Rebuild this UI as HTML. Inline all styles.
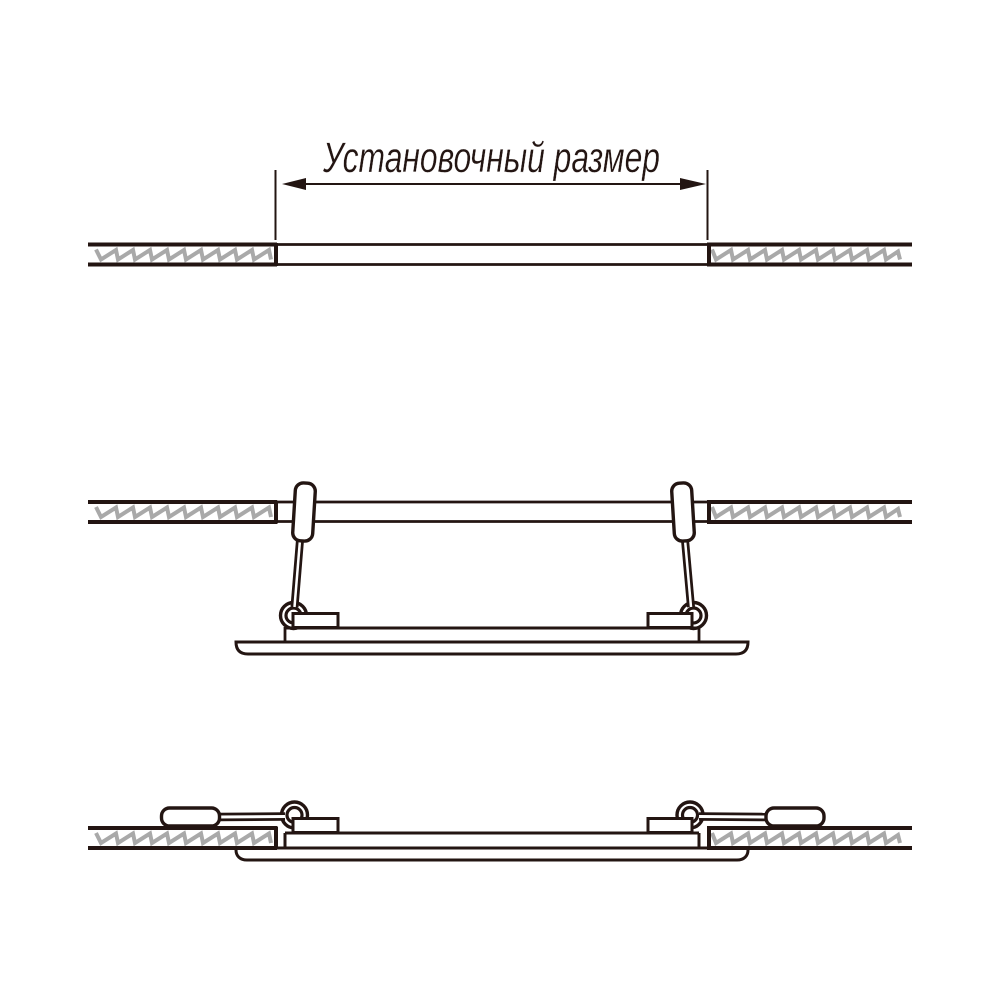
<!DOCTYPE html>
<html><head><meta charset="utf-8"><style>html,body{margin:0;padding:0;background:#fff}svg{display:block}</style></head>
<body>
<svg width="1000" height="1000" viewBox="0 0 1000 1000" xmlns="http://www.w3.org/2000/svg">
<defs>
<g id="wallL">
<path d="M96 6.500 l5 10 l15 -9.500 l2 9.500 l15 -9.500 l2 9.500 l15 -9.500 l2 9.500 l15 -9.500 l2 9.500 l15 -9.500 l2 9.500 l15 -9.500 l2 9.500 l15 -9.500 l2 9.500 l15 -9.500 l2 9.500 l15 -9.500 l2 9.500 l15 -9.500 l2 9.500" fill="none" stroke="#a9a9a9" stroke-width="4"/>
<path d="M88 1.500H277M88 21.500H277" stroke="#231512" stroke-width="4" fill="none"/>
<path d="M276 0V23" stroke="#231512" stroke-width="4" fill="none"/>
</g>
<g id="wallR">
<path d="M712 6.500 l4 10 l15 -9.500 l2 9.500 l15 -9.500 l2 9.500 l15 -9.500 l2 9.500 l15 -9.500 l2 9.500 l15 -9.500 l2 9.500 l15 -9.500 l2 9.500 l15 -9.500 l2 9.500 l15 -9.500 l2 9.500 l15 -9.500 l2 9.500 l15 -9.500 l2 9.500 l12 -8 l2 8" fill="none" stroke="#a9a9a9" stroke-width="4"/>
<path d="M707 1.500H912M707 21.500H912" stroke="#231512" stroke-width="4" fill="none"/>
<path d="M709 0V23" stroke="#231512" stroke-width="4" fill="none"/>
</g>
</defs>
<rect width="1000" height="1000" fill="#fff"/>
<g stroke="#231512" fill="none">
<!-- top -->
<use href="#wallL" y="243"/><use href="#wallR" y="243"/>
<path d="M277 244.500H708M277 264.500H708" stroke-width="2.800"/>
<path d="M275.500 170V240M707.500 170V240M300 184H690" stroke-width="2"/>
<path d="M282 184L306 178V190Z M706 184L680 178V190Z" fill="#231512" stroke="none"/>
<!-- middle -->
<use href="#wallL" y="500.500"/><use href="#wallR" y="500.500"/>
<path d="M277 502H708M277 521.500H708" stroke-width="2.800"/>
<!-- left rig -->
<path d="M285 627V642" stroke-width="2.800"/>
<circle cx="293.500" cy="615.500" r="13" stroke-width="3.400" fill="#fff"/>
<circle cx="293.500" cy="615.500" r="7.500" stroke-width="3.200"/>
<path d="M300 540L294.500 607" stroke="#231512" stroke-width="8"/>
<path d="M300 540L294.500 607" stroke="#fff" stroke-width="2.500"/>
<rect x="293" y="613.500" width="45" height="14" fill="#fff" stroke-width="3"/>
<rect x="294" y="483" width="20" height="58" rx="8" transform="rotate(3.500 304 512)" fill="#fff" stroke-width="3.400"/>
<!-- right rig -->
<path d="M699 627V642" stroke-width="2.800"/>
<circle cx="693.500" cy="615.500" r="13" stroke-width="3.400" fill="#fff"/>
<circle cx="693.500" cy="615.500" r="7.500" stroke-width="3.200"/>
<path d="M685 540L691 607" stroke="#231512" stroke-width="8"/>
<path d="M685 540L691 607" stroke="#fff" stroke-width="2.500"/>
<rect x="648" y="613.500" width="44" height="14" fill="#fff" stroke-width="3"/>
<rect x="673" y="483" width="20" height="58" rx="8" transform="rotate(-3.500 683 512)" fill="#fff" stroke-width="3.400"/>
<!-- middle panel -->
<path d="M285 628H699" stroke-width="3"/>
<path d="M236 642H748C748 650 744 654 736 654H248C240 654 236 650 236 642Z" fill="#fff" stroke-width="3"/>
<!-- bottom -->
<use href="#wallL" y="826.500"/><use href="#wallR" y="826.500"/>
<path d="M236 849V850C236 856 240 860 247 860H737C744 860 748 856 748 850V849" stroke-width="3"/>
<path d="M285 833V847M699 833V847M276 848H708" stroke-width="3"/>
<path d="M285 833H699" stroke-width="3"/>
<!-- bottom left rig -->
<circle cx="294.500" cy="815" r="13" stroke-width="3.400" fill="#fff"/>
<circle cx="294.500" cy="815" r="7.500" stroke-width="3.200"/>
<path d="M218 817L285 816.500" stroke="#231512" stroke-width="8.500"/>
<path d="M218 817L285 816.500" stroke="#fff" stroke-width="3"/>
<rect x="293" y="818.500" width="45" height="14" fill="#fff" stroke-width="3"/>
<rect x="161.500" y="808" width="58" height="18" rx="8" fill="#fff" stroke-width="3.400"/>
<!-- bottom right rig -->
<circle cx="690" cy="815" r="13" stroke-width="3.400" fill="#fff"/>
<circle cx="690" cy="815" r="7.500" stroke-width="3.200"/>
<path d="M699 816.500L767 817" stroke="#231512" stroke-width="8.500"/>
<path d="M699 816.500L767 817" stroke="#fff" stroke-width="3"/>
<rect x="648" y="818.500" width="44" height="14" fill="#fff" stroke-width="3"/>
<rect x="766" y="808" width="58" height="18" rx="8" fill="#fff" stroke-width="3.400"/>
</g>
<text x="323" y="172" font-family="'Liberation Sans','DejaVu Sans',sans-serif" font-style="italic" font-size="43" fill="#231512" stroke="#fff" stroke-width="0.3" textLength="337" lengthAdjust="spacingAndGlyphs">Установочный размер</text>
</svg>
</body></html>
